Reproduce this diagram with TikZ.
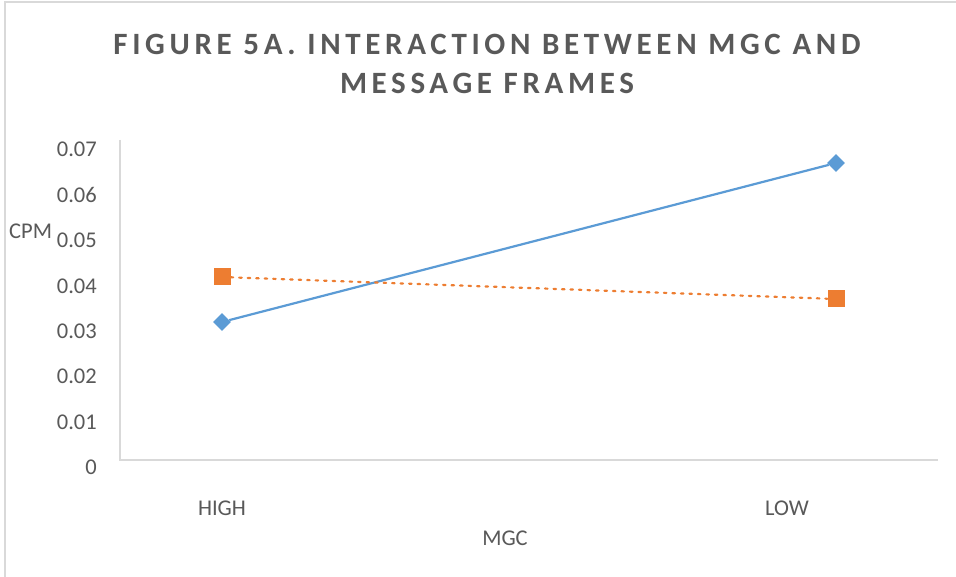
\documentclass[tikz,border=0pt]{standalone}
\usepackage{fontspec}
\setmainfont{Carlito}
\newfontfamily\titlefont{Carlito}[LetterSpace=15]
\usetikzlibrary{shapes.geometric}
\definecolor{txtgray}{HTML}{595959}
\definecolor{framegray}{HTML}{D9D9D9}
\definecolor{serblue}{HTML}{5B9BD5}
\definecolor{serorange}{HTML}{ED7D31}
\tikzset{
  ticklabel/.style={anchor=base east, inner sep=0pt, text=txtgray, font=\fontsize{22.5}{26}\selectfont},
  catlabel/.style={anchor=base, inner sep=0pt, text=txtgray, font=\fontsize{22.5}{26}\selectfont},
  titleline/.style={anchor=base, inner sep=0pt, text=txtgray, font=\titlefont\bfseries\fontsize{31}{36}\selectfont},
  bluemark/.style={diamond, fill=serblue, inner sep=0pt, minimum width=18pt, minimum height=18pt},
  orangemark/.style={rectangle, fill=serorange, inner sep=0pt, minimum size=17pt},
  blueline/.style={serblue, line width=2.2pt},
  orangeline/.style={serorange, line width=2.2pt, line cap=round, dash pattern=on 2.5pt off 6pt},
  axisline/.style={framegray, line width=1.5pt},
}
\begin{document}
\begin{tikzpicture}[x=1pt, y=-1pt]
\useasboundingbox (0,0) rectangle (956,577);
\fill[white] (0,0) rectangle (956,577);
% chart frame
\draw[framegray, line width=2pt] (5,577) -- (5,2) -- (956,2);
% title
\node[titleline] (title1) at (487,55) {FIGURE 5A. INTERACTION BETWEEN MGC AND};
\node[titleline] (title2) at (487,94) {MESSAGE FRAMES};
% axes
\draw[axisline] (120,140) -- (120,460) -- (938,460);
% value axis labels
\foreach \v [count=\i from 0] in {0.07,0.06,0.05,0.04,0.03,0.02,0.01,0}
  \node[ticklabel] (tick\i) at (97,157+45.4*\i) {\v};
\node[anchor=base west, inner sep=0pt, text=txtgray, font=\fontsize{22.5}{26}\selectfont] (ytitle) at (9,239) {CPM};
% category labels and axis title
\node[catlabel] (high) at (222,515) {HIGH};
\node[catlabel] (low) at (787,515) {LOW};
\node[catlabel] (xtitle) at (505,545) {MGC};
% data markers
\node[bluemark] (bh) at (222,322) {};
\node[bluemark] (bl) at (836,163) {};
\node[orangemark] (oh) at (222,277) {};
\node[orangemark] (ol) at (836,299) {};
% series lines
\draw[blueline] (bh) -- (bl);
\draw[orangeline] (oh) -- (ol);
\end{tikzpicture}
\end{document}
